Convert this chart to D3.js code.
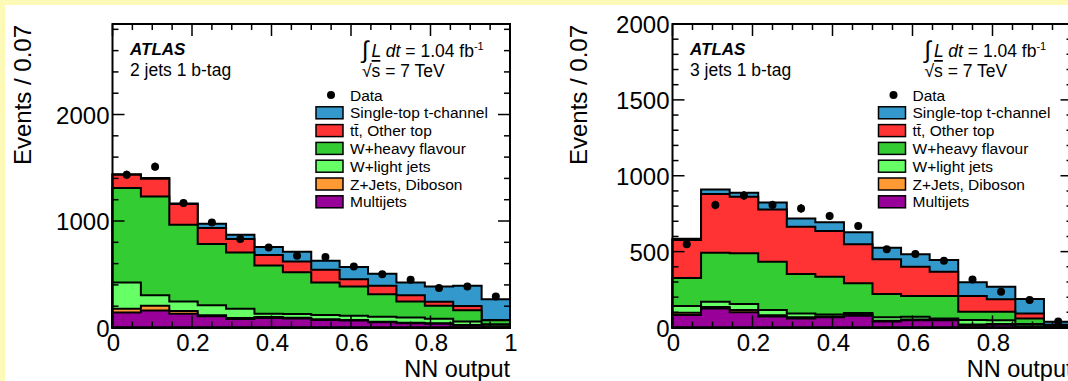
<!DOCTYPE html>
<html><head><meta charset="utf-8">
<script src="https://cdn.jsdelivr.net/npm/d3@7"></script>
<style>
html,body{margin:0;padding:0;background:#fdfab8;overflow:hidden;}
svg{display:block;}
text{font-family:"Liberation Sans",Arial,Helvetica,sans-serif;fill:#000;}
</style></head>
<body>
<svg id="c" width="1068" height="381"></svg>
<script>
// ---------- data ----------
const binEdges = [0, 0.0714, 0.1429, 0.2143, 0.2857, 0.3571, 0.4286, 0.5, 0.5714, 0.6429, 0.7143, 0.7857, 0.8571, 0.9286, 1.0];
const seriesNames = ["Multijets", "Z+Jets, Diboson", "W+light jets", "W+heavy flavour", "tt̄, Other top", "Single-top t-channel"];
const seriesColors = ["#990099", "#ff9933", "#66ff66", "#33cc33", "#ff3333", "#3399cc"];

// 2 jets 1 b-tag
const multijet2 = [140,160,129,105,80,90,85,70,65,50,40,35,20,8];
const zjets2    = [35,44,25,10,10,8,7,7,6,5,5,4,4,3];
const wlight2   = [248,100,91,95,86,32,35,40,40,47,48,43,32,20];
const wheavy2   = [887,927,720,573,529,453,393,306,274,211,152,122,107,36];
const ttbar2    = [125,165,194,151,125,97,100,119,69,79,59,38,38,3];
const stop2     = [5,8,5,41,41,75,91,85,113,112,119,143,192,195];
const data2     = [1435,1510,1169,987,830,752,673,661,573,501,448,370,385,290];

// 3 jets 1 b-tag
const multijet3 = [82,125,100,72,60,68,78,40,48,48,15,18,5,2];
const zjets3    = [15,10,15,8,8,5,5,5,5,4,5,5,3,1];
const wlight3   = [45,35,40,35,25,12,12,22,18,8,30,25,15,5];
const wheavy3   = [185,322,334,319,259,250,196,154,136,147,54,56,37,8];
const ttbar3    = [250,388,373,344,312,301,257,228,194,161,103,82,33,2];
const stop3     = [8,30,26,45,55,57,79,77,81,77,91,83,95,20];
const data3     = [548,807,870,807,785,735,669,515,484,440,317,236,181,40];

const xTicksMajor = [0, 0.2, 0.4, 0.6, 0.8, 1];
const xTickLabels = ["0", "0.2", "0.4", "0.6", "0.8", "1"];
const yTicks2 = [0, 1000, 2000];
const yTicks3 = [0, 500, 1000, 1500, 2000];

const panels = [
  {x0:112.5, x1:510, ymax:2850, yMajor:yTicks2, yMinorStep:200, xMinorStep:0.05,
   label:"2 jets 1 b-tag", series:[multijet2,zjets2,wlight2,wheavy2,ttbar2,stop2], data:data2, ytitleX:31},
  {x0:672.5, x1:1072.5, ymax:2000, yMajor:yTicks3, yMinorStep:100, xMinorStep:0.05,
   label:"3 jets 1 b-tag", series:[multijet3,zjets3,wlight3,wheavy3,ttbar3,stop3], data:data3, ytitleX:587}
];

const svg = d3.select("#c");
svg.append("rect").attr("x",5).attr("y",5).attr("width",1063).attr("height",376).attr("fill","#fff");

const yTop = 24, yBot = 327.5;

panels.forEach(p => {
  const g = svg.append("g");
  const x = d3.scaleLinear().domain([0,1]).range([p.x0, p.x1]);
  const y = d3.scaleLinear().domain([0,p.ymax]).range([yBot, yTop]);
  const nb = binEdges.length - 1;
  const cum = [];
  p.series.forEach((s,k) => {
    cum.push(s.map((v,i) => v + (k>0 ? cum[k-1][i] : 0)));
  });
  for (let k = cum.length-1; k >= 0; k--) {
    const c = cum[k];
    const pts = [[x(binEdges[0]), y(0)]];
    for (let i=0;i<nb;i++){
      pts.push([x(binEdges[i]), y(c[i])]);
      pts.push([x(binEdges[i+1]), y(c[i])]);
    }
    pts.push([x(binEdges[nb]), y(0)]);
    g.append("path").attr("d", d3.line()(pts) + "Z")
      .attr("fill", seriesColors[k]).attr("stroke","#000").attr("stroke-width",2)
      .attr("stroke-linejoin","miter");
  }
  p.data.forEach((d,i) => {
    const cx = x((binEdges[i]+binEdges[i+1])/2);
    const e = Math.sqrt(d);
    g.append("line").attr("x1",cx).attr("x2",cx).attr("y1",y(d-e)).attr("y2",y(d+e))
      .attr("stroke","#000").attr("stroke-width",1.5);
    g.append("circle").attr("cx",cx).attr("cy",y(d)).attr("r",4).attr("fill","#000");
  });
  g.append("rect").attr("x",p.x0).attr("y",yTop).attr("width",p.x1-p.x0).attr("height",yBot-yTop)
    .attr("fill","none").attr("stroke","#000").attr("stroke-width",2);
  const tk = g.append("g").attr("stroke","#000").attr("stroke-width",1.5);
  const yMinor = d3.range(0, p.ymax+1e-9, p.yMinorStep);
  yMinor.forEach(v => {
    const major = p.yMajor.includes(v);
    const L = major ? 12 : 6;
    tk.append("line").attr("x1",p.x0).attr("x2",p.x0+L).attr("y1",y(v)).attr("y2",y(v));
    tk.append("line").attr("x1",p.x1).attr("x2",p.x1-L).attr("y1",y(v)).attr("y2",y(v));
  });
  const xMinor = d3.range(0, 1+1e-9, p.xMinorStep);
  xMinor.forEach(v => {
    const major = xTicksMajor.some(m => Math.abs(m-v)<1e-6);
    const L = major ? 12 : 6;
    tk.append("line").attr("x1",x(v)).attr("x2",x(v)).attr("y1",yBot).attr("y2",yBot-L);
    tk.append("line").attr("x1",x(v)).attr("x2",x(v)).attr("y1",yTop).attr("y2",yTop+L);
  });
  p.yMajor.forEach(v => {
    g.append("text").attr("x",p.x0-3).attr("y",y(v)+9).attr("text-anchor","end")
      .attr("font-size",24).text(v);
  });
  xTicksMajor.forEach((v,i) => {
    g.append("text").attr("x",x(v)+1).attr("y",351).attr("text-anchor","middle")
      .attr("font-size",24).text(xTickLabels[i]);
  });
  g.append("text").attr("x",p.x1).attr("y",377).attr("text-anchor","end")
    .attr("font-size",23.5).text("NN output");
  g.append("text").attr("transform",`translate(${p.ytitleX},25) rotate(-90)`)
    .attr("text-anchor","end").attr("font-size",24)
    .attr("textLength",140).attr("lengthAdjust","spacingAndGlyphs").text("Events / 0.07");
  g.append("text").attr("x",p.x0+17.5).attr("y",55).attr("font-size",17)
    .attr("font-weight","bold").attr("font-style","italic").text("ATLAS");
  g.append("text").attr("x",p.x0+17.5).attr("y",76).attr("font-size",17.5).text(p.label);
  const lx = p.x1 - 148;
  const t1 = g.append("text").attr("x",lx).attr("y",56.5).attr("font-size",17.5);
  t1.append("tspan").attr("font-size",24).attr("dy",1.5).text("∫");
  t1.append("tspan").attr("font-style","italic").attr("dy",-1.5).attr("dx",3).text("L dt");
  t1.append("tspan").text(" = 1.04 fb");
  t1.append("tspan").attr("font-size",11).attr("dy",-7).text("-1");
  const t2 = g.append("text").attr("x",lx).attr("y",77).attr("font-size",17.5);
  t2.append("tspan").text("√");
  t2.append("tspan").attr("text-decoration","overline").text("s");
  t2.append("tspan").text(" = 7 TeV");
  const bx = p.x1 - 194, tx = p.x1 - 160;
  const ly0 = 95, dy = 17.8;
  g.append("circle").attr("cx",p.x1-179).attr("cy",ly0).attr("r",4).attr("fill","#000");
  g.append("text").attr("x",tx).attr("y",ly0+5.5).attr("font-size",15.5).text("Data");
  for (let k = 5; k >= 0; k--) {
    const row = 6 - k;
    const cy = ly0 + row*dy;
    g.append("rect").attr("x",bx).attr("y",cy-6).attr("width",27).attr("height",12)
      .attr("fill",seriesColors[k]).attr("stroke","#000").attr("stroke-width",1.5);
    g.append("text").attr("x",tx).attr("y",cy+5.5).attr("font-size",15.5).text(seriesNames[k]);
  }
});
</script>
</body></html>
